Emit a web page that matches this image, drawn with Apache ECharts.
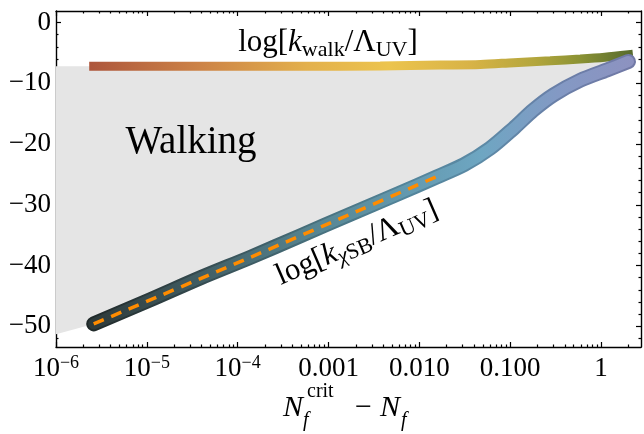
<!DOCTYPE html>
<html>
<head>
<meta charset="utf-8">
<script src="https://cdn.jsdelivr.net/npm/echarts@6/dist/echarts.min.js"></script>
<style>
html, body { margin: 0; padding: 0; background: #fff; }
#main { width: 644px; height: 434px; }
</style>
</head>
<body>
<div id="main"></div>
<script>
// log[k_chiSB / Lambda_UV]  (thick lower curve)
var chiX = [2.6e-6, 1.1e-5, 3.9e-5, 1.4e-4, 4.9e-4, 1.7e-3, 5.4e-3, 0.0156, 0.031, 0.060, 0.109, 0.18, 0.30, 0.59, 1.16, 2.0];
var chiY = [-49.6, -45.6, -42.0, -38.6, -35.1, -31.6, -28.4, -25.4, -23.4, -20.7, -17.4, -14.4, -11.9, -9.5, -7.8, -6.4];
// orange dashed fit along the lower curve
var fitX = [2.6e-6, 1.4e-4, 1.7e-3, 0.017];
var fitY = [-49.6, -38.6, -31.6, -25.1];
// log[k_walk / Lambda_UV]  (thick upper curve)
var walkX = [2.6e-6, 3.9e-5, 4.9e-4, 3.7e-3, 0.017, 0.047, 0.109, 0.275, 0.59, 1.1, 2.0];
var walkY = [-7.2, -7.2, -7.2, -7.15, -7.0, -6.9, -6.6, -6.3, -6.0, -5.7, -5.3];
// shaded "Walking" region closes on the left frame edge
var shadeEdgeX = 1e-6;
var shadeEdgeY = [-7.2, -51.3];

var xMajor = [1e-6, 1e-5, 1e-4, 1e-3, 1e-2, 1e-1, 1];
var yMajor = [0, -10, -20, -30, -40, -50];
var xMinor = [];
for (var e = -6; e <= 0; e++) {
	for (var m = 2; m <= 9; m++) {
		var v = m * Math.pow(10, e);
		if (v < 2.75) xMinor.push(v);
	}
}
var yMinor = [];
for (var k = 0; k >= -52; k -= 2) {
	if (k % 10 !== 0) yMinor.push(k);
}

var X_MIN = 1e-6, X_MAX = 2.75, Y_MIN = -53.4, Y_MAX = 1.9;
var SERIF = '"Liberation Serif", "DejaVu Serif", serif';

function zip(xs, ys) {
	var out = [];
	for (var i = 0; i < xs.length; i++) out.push([xs[i], ys[i]]);
	return out;
}
function grad(stops) {
	return new echarts.graphic.LinearGradient(0, 0, 1, 0, stops.map(function (s) {
		return { offset: s[0], color: s[1] };
	}));
}

var chiData = zip(chiX, chiY);
var walkData = zip(walkX, walkY);
var fitData = zip(fitX, fitY);

// polygon: left edge top -> along walk -> back along chi -> left edge bottom
var shadeData = [[shadeEdgeX, shadeEdgeY[0]]].concat(walkData, chiData.slice().reverse(), [[shadeEdgeX, shadeEdgeY[1]]]);

function xLabel(v) {
	var e = Math.round(Math.log(v) / Math.LN10);
	if (e <= -4) return '{m|10}{s|\u2212' + (-e) + '}';
	if (e === 0) return '{m|1}';
	return '{m|' + v.toFixed(3) + '}';
}

function xAxisDef(pos, ticks, len, main) {
	return {
		type: 'log', logBase: 10, min: X_MIN, max: X_MAX, position: pos,
		axisLine: { show: main, onZero: false, lineStyle: { color: '#000', width: 1.4 } },
		axisTick: { show: true, inside: true, length: len, customValues: ticks, lineStyle: { color: '#000', width: 1.2 } },
		axisLabel: pos === 'bottom' && main ? {
			show: true, margin: 7, customValues: xMajor, formatter: xLabel,
			rich: {
				m: { fontFamily: SERIF, fontSize: 27, color: '#000', lineHeight: 30 },
				s: { fontFamily: SERIF, fontSize: 18, color: '#000', lineHeight: 18, verticalAlign: 'top' }
			}
		} : { show: false },
		splitLine: { show: false }
	};
}
function yAxisDef(pos, ticks, len, main) {
	return {
		type: 'value', min: Y_MIN, max: Y_MAX, position: pos,
		axisLine: { show: main, onZero: false, lineStyle: { color: '#000', width: 1.4 } },
		axisTick: { show: true, inside: true, length: len, customValues: ticks, lineStyle: { color: '#000', width: 1.2 } },
		axisLabel: pos === 'left' && main ? {
			show: true, margin: 5, customValues: yMajor,
			fontFamily: SERIF, fontSize: 27, color: '#000',
			formatter: function (v) { return v === 0 ? '0' : '\u2212' + Math.abs(v); }
		} : { show: false },
		splitLine: { show: false }
	};
}

var chart = echarts.init(document.getElementById('main'), null, { renderer: 'canvas' });

var option = {
	animation: false,
	backgroundColor: '#fff',
	grid: { left: 56, right: 3, top: 11, bottom: 87, containLabel: false },
	xAxis: [
		xAxisDef('bottom', xMajor, 5, true),
		xAxisDef('bottom', xMinor, 2.5, false),
		xAxisDef('top', xMajor, 5, true),
		xAxisDef('top', xMinor, 2.5, false)
	],
	yAxis: [
		yAxisDef('left', yMajor, 5, true),
		yAxisDef('left', yMinor, 2.5, false),
		yAxisDef('right', yMajor, 5, true),
		yAxisDef('right', yMinor, 2.5, false)
	],
	series: [
		{
			type: 'custom', name: 'walking region', z: 1, silent: true,
			data: [0],
			renderItem: function (params, api) {
				var pts = shadeData.map(function (p) { return api.coord(p); });
				return { type: 'polygon', shape: { points: pts, smooth: 0 }, style: { fill: '#e5e5e5' } };
			}
		},
		{
			type: 'line', name: 'walk', z: 3, showSymbol: false, silent: true, smooth: 0.3,
			data: walkData,
			lineStyle: {
				width: 9, cap: 'square',
				color: grad([[0, '#ad563c'], [0.2, '#cc8246'], [0.4, '#e3b04c'], [0.55, '#ecc44e'],
					[0.7, '#d8b346'], [0.82, '#b3a63d'], [0.9, '#8c9334'], [1, '#566a2e']])
			}
		},
		{
			type: 'line', name: 'chiSB edge', z: 4, showSymbol: false, silent: true, smooth: 0.3,
			data: chiData,
			lineStyle: {
				width: 15, cap: 'round', join: 'round',
				color: grad([[0, '#1f2828'], [0.2, '#34494e'], [0.4, '#466e7a'], [0.58, '#52849a'],
					[0.72, '#5c8aa6'], [0.86, '#6a7fa8'], [1, '#7279a6']])
			}
		},
		{
			type: 'line', name: 'chiSB', z: 5, showSymbol: false, silent: true, smooth: 0.3,
			data: chiData,
			lineStyle: {
				width: 11, cap: 'round', join: 'round',
				color: grad([[0, '#2c3838'], [0.2, '#405c62'], [0.4, '#55838f'], [0.58, '#6399ae'],
					[0.72, '#6ea6c2'], [0.86, '#8399c4'], [1, '#8d92c0']])
			}
		},
		{
			type: 'line', name: 'fit', z: 6, showSymbol: false, silent: true, smooth: 0.3,
			data: fitData,
			lineStyle: { width: 3.5, color: '#ff8c00', type: [11, 8], cap: 'butt' }
		}
	],
	graphic: [
		{
			type: 'text', x: 191, y: 143, z: 10,
			style: { text: 'Walking', font: '39px ' + SERIF, fill: '#000', align: 'center', verticalAlign: 'middle' }
		},
		{
			type: 'text', x: 328, y: 43, z: 10,
			style: {
				text: '{r|log[}{i|k}{sub|walk}{r|/\u039B}{sub|UV}{r|]}',
				align: 'center', verticalAlign: 'middle',
				rich: {
					r: { fontFamily: SERIF, fontSize: 31, fill: '#000', lineHeight: 36 },
					i: { fontFamily: SERIF, fontSize: 31, fontStyle: 'italic', fill: '#000', lineHeight: 36 },
					sub: { fontFamily: SERIF, fontSize: 22, fill: '#000', lineHeight: 22, verticalAlign: 'bottom' }
				}
			}
		},
		{
			type: 'text', x: 357, y: 243, z: 10, rotation: 0.41,
			style: {
				text: '{r|log[}{i|k}{subi|\u03C7}{sub|SB}{r|/\u039B}{sub|UV}{r|]}',
				align: 'center', verticalAlign: 'middle',
				rich: {
					r: { fontFamily: SERIF, fontSize: 31, fill: '#000', lineHeight: 36 },
					i: { fontFamily: SERIF, fontSize: 31, fontStyle: 'italic', fill: '#000', lineHeight: 36 },
					subi: { fontFamily: SERIF, fontSize: 22, fontStyle: 'italic', fill: '#000', lineHeight: 22, verticalAlign: 'bottom' },
					sub: { fontFamily: SERIF, fontSize: 22, fill: '#000', lineHeight: 22, verticalAlign: 'bottom' }
				}
			}
		},
		// x axis title  N_f^crit - N_f
		{
			type: 'group', x: 283, y: 0, z: 10,
			children: [
				{ type: 'text', x: 0, y: 408, style: { text: 'N', font: 'italic 30px ' + SERIF, fill: '#000', verticalAlign: 'middle' } },
				{ type: 'text', x: 24, y: 392, style: { text: 'crit', font: '20px ' + SERIF, fill: '#000', verticalAlign: 'middle' } },
				{ type: 'text', x: 20, y: 421, style: { text: 'f', font: 'italic 20px ' + SERIF, fill: '#000', verticalAlign: 'middle' } },
				{ type: 'text', x: 72, y: 408, style: { text: '\u2212', font: '30px ' + SERIF, fill: '#000', verticalAlign: 'middle' } },
				{ type: 'text', x: 97, y: 408, style: { text: 'N', font: 'italic 30px ' + SERIF, fill: '#000', verticalAlign: 'middle' } },
				{ type: 'text', x: 118, y: 421, style: { text: 'f', font: 'italic 20px ' + SERIF, fill: '#000', verticalAlign: 'middle' } }
			]
		}
	]
};

chart.setOption(option);
</script>
</body>
</html>
